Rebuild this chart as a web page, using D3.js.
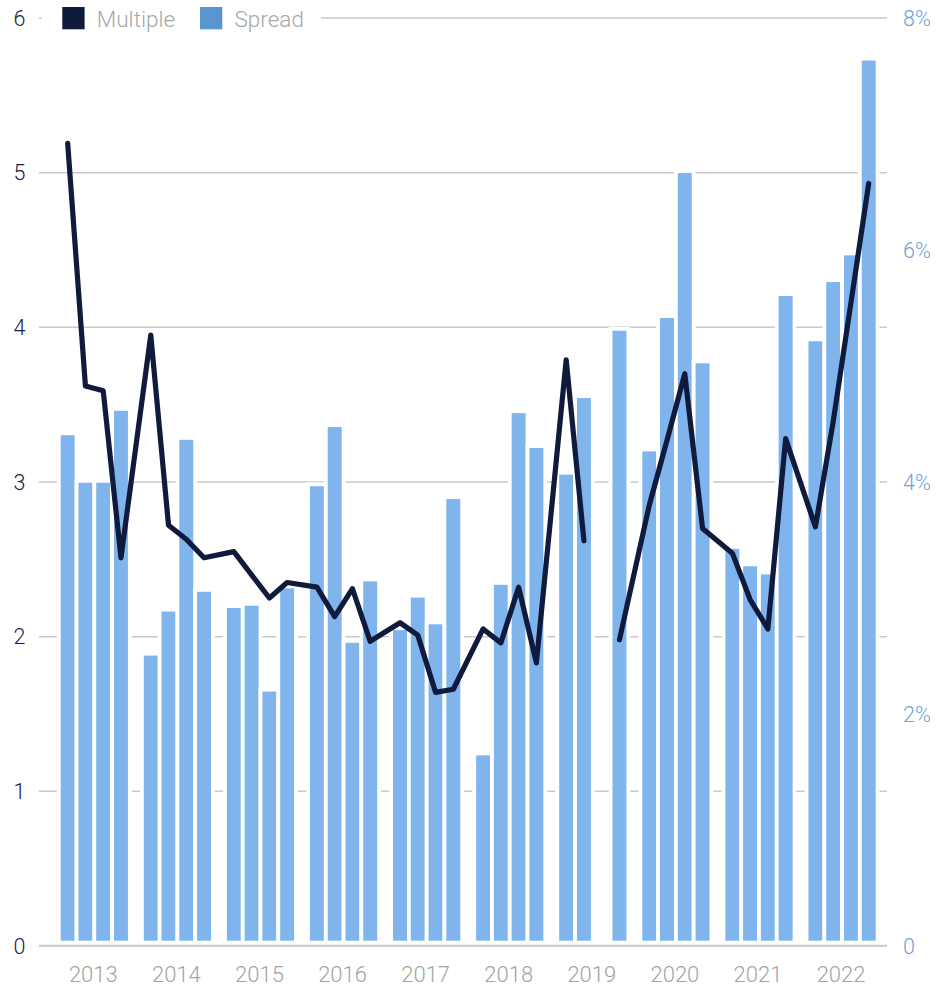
<!DOCTYPE html>
<html>
<head>
<meta charset="utf-8">
<script src="https://cdn.jsdelivr.net/npm/d3@7/dist/d3.min.js"></script>
<style>
  html, body { margin: 0; padding: 0; background: #fff; }
  svg { display: block; }
  text { font-family: Roboto, "Open Sans", sans-serif; font-weight: 300; }
</style>
</head>
<body>
<svg id="chart" width="937" height="985"></svg>
<script>
const years = ["2013","2014","2015","2016","2017","2018","2019","2020","2021","2022"];
const quarters = ["Q1","Q2","Q3","Q4"];
// Spread (%), quarterly, right axis
const spread = [
  4.42, 4.01, 4.01, 4.63,
  2.52, 2.90, 4.38, 3.07,
  2.93, 2.95, 2.21, 3.10,
  3.98, 4.49, 2.63, 3.16,
  2.74, 3.02, 2.79, 3.87,
  1.66, 3.13, 4.61, 4.31,
  4.08, 4.74, null, 5.32,
  4.28, 5.43, 6.68, 5.04,
  3.44, 3.29, 3.22, 5.62,
  5.23, 5.74, 5.97, 7.65
];
// Multiple, quarterly, left axis
const multiple = [
  5.19, 3.62, 3.59, 2.51,
  3.95, 2.72, 2.63, 2.51,
  2.55, 2.40, 2.25, 2.35,
  2.32, 2.13, 2.31, 1.97,
  2.09, 2.01, 1.64, 1.66,
  2.05, 1.96, 2.32, 1.83,
  3.79, 2.62, null, 1.98,
  2.85, 3.27, 3.70, 2.70,
  2.54, 2.24, 2.05, 3.28,
  2.71, 3.39, 4.16, 4.93
];
const leftTicks = [0,1,2,3,4,5,6];
const rightTicks = [0,2,4,6,8];
const rightTickLabels = ["0","2%","4%","6%","8%"];
const legendItems = ["Multiple","Spread"];

const data = [];
years.forEach((y, i) => quarters.forEach((q, j) => {
  const k = i * 4 + j;
  data.push({ year: y, q: q, spread: spread[k], multiple: multiple[k] });
}));

const svg = d3.select("#chart");
const plotLeft = 39, plotRight = 887;
const yL = d3.scaleLinear().domain([0, 6]).range([946, 18]);
const yR = d3.scaleLinear().domain([0, 8]).range([946, 18]);
const x0 = d3.scaleBand().domain(years).range([58.8, 877.6]).paddingInner(0.1448).paddingOuter(0);
const x1 = d3.scaleBand().domain(quarters).range([0, x0.bandwidth()]).padding(0);
const cx = d => x0(d.year) + x1(d.q) + x1.bandwidth() / 2;

const navy = "#0f1a3d", barFill = "#7fb5ec", legendBlue = "#5b95cd", gridC = "#c9c9c9";

// grid lines
svg.append("g").selectAll("line").data(leftTicks).join("line")
  .attr("x1", plotLeft).attr("x2", plotRight)
  .attr("y1", d => yL(d)).attr("y2", d => yL(d))
  .attr("stroke", gridC).attr("stroke-width", 1.5);

// bars
const barBottomGap = 3.4;
svg.append("g").selectAll("rect").data(data.filter(d => d.spread != null)).join("rect")
  .attr("x", d => x0(d.year) + x1(d.q))
  .attr("width", x1.bandwidth())
  .attr("y", d => yR(d.spread))
  .attr("height", d => yR(0) - barBottomGap - yR(d.spread))
  .attr("fill", barFill)
  .attr("stroke", "#fff").attr("stroke-width", 3.8);

// baseline redraw
svg.append("line")
  .attr("x1", plotLeft).attr("x2", plotRight)
  .attr("y1", yL(0) - 0.5).attr("y2", yL(0) - 0.5)
  .attr("stroke", gridC).attr("stroke-width", 1.5);

// line
const line = d3.line().defined(d => d.multiple != null)
  .x(cx).y(d => yL(d.multiple));
svg.append("path").datum(data).attr("d", line)
  .attr("fill", "none").attr("stroke", navy).attr("stroke-width", 5.2)
  .attr("stroke-linejoin", "round").attr("stroke-linecap", "round");

// legend
svg.append("rect").attr("x", 42).attr("y", 4).attr("width", 279).attr("height", 30).attr("fill", "#fff");
const legX = [62.3, 200];
const legC = [navy, legendBlue];
legendItems.forEach((t, i) => {
  svg.append("rect").attr("x", legX[i]).attr("y", 7).attr("width", 22.3).attr("height", 22.3).attr("fill", legC[i]);
  svg.append("text").attr("x", legX[i] + 34.5).attr("y", 26.5)
    .attr("font-size", 22.5).attr("fill", "#a7a7a7").text(t);
});

// left axis labels
svg.append("g").selectAll("text").data(leftTicks).join("text")
  .attr("x", 19.5).attr("y", d => yL(d)).attr("dy", "0.36em")
  .attr("text-anchor", "middle").attr("font-size", 21.5).attr("fill", "#1a2142")
  .text(d => d);

// right axis labels
svg.append("g").selectAll("text").data(rightTicks).join("text")
  .attr("x", 903).attr("y", d => yR(d)).attr("dy", "0.36em")
  .attr("text-anchor", "start").attr("font-size", 21.5).attr("fill", "#6b9fd8")
  .text((d, i) => rightTickLabels[i]);

// year labels
svg.append("g").selectAll("text").data(years).join("text")
  .attr("x", d => x0(d) + x0.bandwidth() / 2 - 1).attr("y", 981.5)
  .attr("text-anchor", "middle").attr("font-size", 22).attr("fill", "#a3a3a3")
  .text(d => d);
</script>
</body>
</html>
